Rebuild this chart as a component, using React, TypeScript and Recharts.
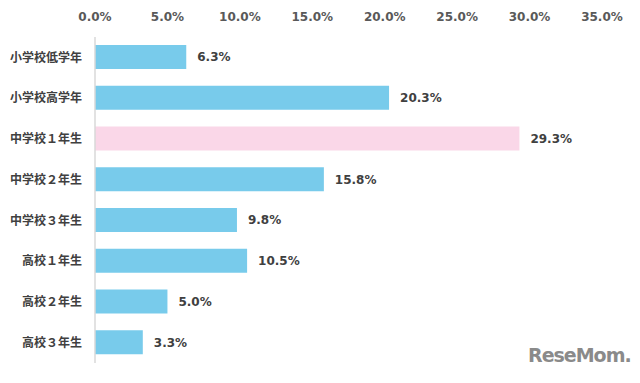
import { BarChart, Bar, XAxis, YAxis, Cell, LabelList } from 'recharts'

const categories = ['小学校低学年', '小学校高学年', '中学校１年生', '中学校２年生', '中学校３年生', '高校１年生', '高校２年生', '高校３年生']
const values = [6.3, 20.3, 29.3, 15.8, 9.8, 10.5, 5.0, 3.3]
const xTicks = [0, 5, 10, 15, 20, 25, 30, 35]
const highlightIndex = 2

const data = categories.map((name, i) => ({ name, value: values[i] }))

const NUM_FONT = '"DejaVu Sans", Verdana, sans-serif'
const JP_FONT = '"Noto Sans CJK JP", sans-serif'

export default function App() {
  return (
    <div style={{ position: 'fixed', left: 0, top: 0, width: 640, height: 383, background: '#fff' }}>
      <BarChart
        width={640}
        height={383}
        data={data}
        layout="vertical"
        margin={{ top: 0, right: 38, bottom: 20, left: 0 }}
        barSize={24}
      >
        <XAxis
          type="number"
          orientation="top"
          domain={[0, 35]}
          ticks={xTicks}
          tickFormatter={(v: number) => `${v.toFixed(1)}%`}
          axisLine={false}
          tickLine={false}
          height={37}
          tickMargin={10}
          tick={{ fill: '#595959', fontSize: 12, fontWeight: 'bold', fontFamily: NUM_FONT }}
        />
        <YAxis
          type="category"
          dataKey="name"
          width={95}
          axisLine={{ stroke: '#d9d9d9', strokeWidth: 1.5 }}
          tickLine={false}
          tickMargin={7}
          tick={{ fill: '#404040', fontSize: 12, fontWeight: 'bold', fontFamily: JP_FONT }}
        />
        <Bar dataKey="value" isAnimationActive={false}>
          {data.map((_, i) => (
            <Cell key={i} fill={i === highlightIndex ? '#fad7e8' : '#78cbeb'} />
          ))}
          <LabelList
            dataKey="value"
            position="right"
            offset={11}
            formatter={(v: number) => `${v.toFixed(1)}%`}
            style={{ fill: '#404040', fontSize: 12, fontWeight: 'bold', fontFamily: NUM_FONT }}
          />
        </Bar>
      </BarChart>
      <div
        style={{
          position: 'absolute',
          left: 528,
          top: 344,
          fontFamily: '"DejaVu Sans", sans-serif',
          fontWeight: 'bold',
          fontSize: 19,
          color: '#8a8a8a',
          letterSpacing: -1,
        }}
      >
        ReseMom.
      </div>
    </div>
  )
}
